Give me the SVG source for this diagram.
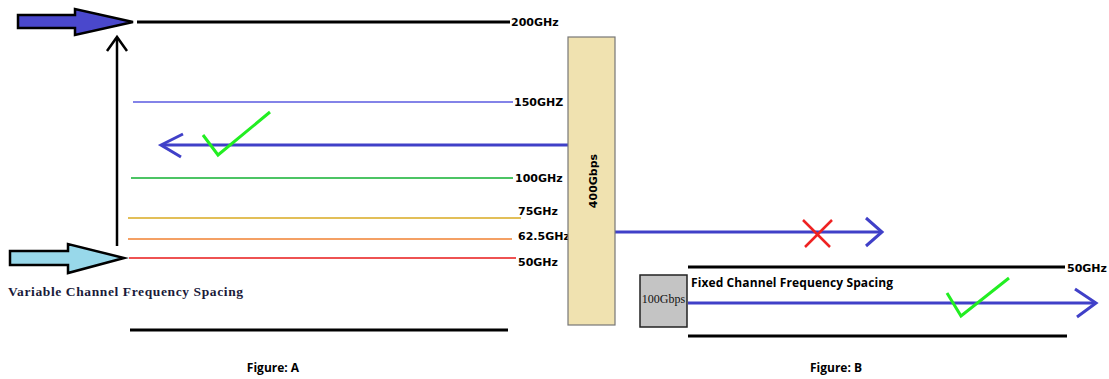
<svg xmlns="http://www.w3.org/2000/svg" width="1109" height="379" viewBox="0 0 1109 379">
<style>
.lbl{font-family:"DejaVu Sans",sans-serif;font-weight:bold;font-size:11px;fill:#000}
.cal{font-family:"Open Sans","Liberation Sans",sans-serif;font-weight:bold;font-size:12px;fill:#000}
.blk{stroke:#000;stroke-width:3;fill:none}
.bl{stroke:#4040c8;stroke-width:3;fill:none}
.chk{stroke:#22ee22;stroke-width:3;fill:none}
.thin{stroke-width:1.5}
</style>
<rect width="1109" height="379" fill="#fff"/>
<g id="connectors">
<line x1="137" y1="22" x2="510" y2="22" class="blk"/>
<line x1="117" y1="246" x2="117" y2="38" stroke="#000" stroke-width="2.5"/>
<polyline points="107,51 117,37 127,51" stroke="#000" stroke-width="2.5" fill="none"/>
<line x1="133" y1="102" x2="513" y2="102" stroke="#5a5ae0" class="thin"/>
<line x1="162" y1="145" x2="568" y2="145" class="bl"/>
<polyline points="183,134 161,145 181,157" class="bl"/>
<line x1="131" y1="178" x2="513" y2="178" stroke="#10b030" class="thin"/>
<line x1="128" y1="218" x2="521" y2="218" stroke="#d8aa20" class="thin"/>
<line x1="128" y1="239" x2="512" y2="239" stroke="#f08030" class="thin"/>
<line x1="129" y1="258" x2="516" y2="258" stroke="#e81818" class="thin"/>
<line x1="130" y1="330" x2="508" y2="330" class="blk"/>
<line x1="615" y1="232" x2="881" y2="232" class="bl"/>
<polyline points="866,218 882,232 866,246" class="bl"/>
<line x1="688" y1="267" x2="1065" y2="267" class="blk"/>
<line x1="688" y1="303" x2="1096" y2="303" class="bl"/>
<polyline points="1075,289 1096,303 1077,317" class="bl"/>
<line x1="688" y1="336" x2="1067" y2="336" class="blk"/>
</g>
<g id="arrow-top">
<polygon points="18,15 75,15 75,9 133,22 75,35 75,28 18,28" fill="#4a48cc" stroke="#000" stroke-width="2.5"/>
</g>
<g id="arrow-bottom">
<polygon points="10,251 68,251 68,244 124,258 68,273 68,265 10,265" fill="#98d8ea" stroke="#000" stroke-width="2.5"/>
</g>
<g id="labels-a">
<text x="511" y="26" class="lbl">200GHz</text>
<text x="514" y="106" class="lbl">150GHZ</text>
<text x="515" y="182" class="lbl">100GHz</text>
<text x="518" y="215" class="lbl">75GHz</text>
<text x="518" y="240" class="lbl">62.5GHz</text>
<text x="518" y="266" class="lbl">50GHz</text>
<text x="8" y="296" font-family="Liberation Serif,serif" font-weight="bold" font-size="13.5" fill="#1a1a3a" textLength="235">Variable Channel Frequency Spacing</text>
<text x="273" y="372" class="cal" text-anchor="middle">Figure: A</text>
</g>
<g id="check-a">
<polyline points="203,135 218,155 270,112" class="chk"/>
</g>
<g id="box-400">
<rect x="568" y="37" width="47" height="288" fill="#f0e2b0" stroke="#777" stroke-width="1.2"/>
<text transform="translate(596.5,181) rotate(-90)" text-anchor="middle" class="lbl" font-size="12.5">400Gbps</text>
</g>
<g id="cross">
<line x1="803" y1="220" x2="830" y2="247" stroke="#ee2222" stroke-width="2.5"/>
<line x1="832" y1="220" x2="805" y2="247" stroke="#ee2222" stroke-width="2.5"/>
</g>
<g id="box-100">
<rect x="640" y="275" width="47" height="52" fill="#c4c4c4" stroke="#222" stroke-width="1.5"/>
<text x="663.5" y="303" text-anchor="middle" font-family="Liberation Serif,serif" font-size="12" fill="#111">100Gbps</text>
</g>
<g id="labels-b">
<text x="1067" y="272" class="lbl">50GHz</text>
<text x="691" y="287" class="cal" textLength="202">Fixed Channel Frequency Spacing</text>
<text x="836" y="372" class="cal" text-anchor="middle">Figure: B</text>
</g>
<g id="check-b">
<polyline points="947,293 961,316 1009,278" class="chk"/>
</g>
</svg>
